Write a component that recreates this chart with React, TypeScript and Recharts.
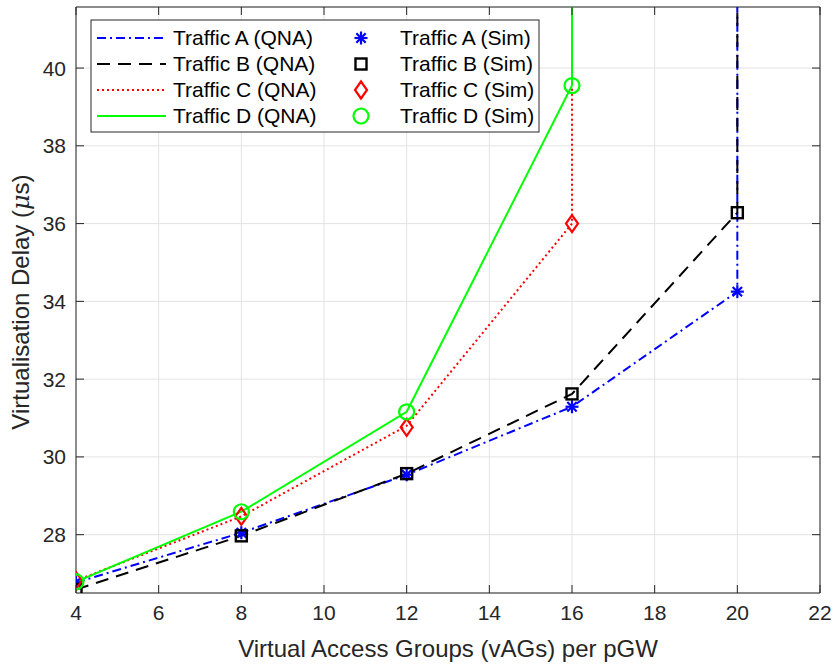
import {
  ComposedChart,
  Line,
  Scatter,
  XAxis,
  YAxis,
  CartesianGrid,
  ReferenceLine,
} from "recharts";

// vAGs per pGW
const vags = [4, 8, 12, 16, 20];
// a value far above the axis marks the point where the queue goes unstable
const UNSTABLE = 60;

const simA = [26.77, 28.05, 29.54, 31.29, 34.25];
const simB = [26.59, 27.97, 29.57, 31.62, 36.28];
const simC = [26.82, 28.47, 30.76, 36.0];
const simD = [26.79, 28.59, 31.16, 39.55];

const qnaA = [26.77, 28.05, 29.54, 31.29, 34.25, UNSTABLE];
const qnaB = [26.59, 27.97, 29.57, 31.62, 36.28, UNSTABLE];
const qnaC = [26.82, 28.47, 30.8, 36.0, UNSTABLE];
const qnaD = [26.79, 28.59, 31.16, 39.55, UNSTABLE];

const xTicks = [4, 6, 8, 10, 12, 14, 16, 18, 20, 22];
const yTicks = [28, 30, 32, 34, 36, 38, 40];
const xDomain: [number, number] = [4, 22];
const yDomain: [number, number] = [26.5, 41.57];

const BLUE = "#0000ff";
const BLACK = "#000000";
const RED = "#ff0000";
const GREEN = "#00ff00";
const AXIS = "#262626";
const FONT = "'Liberation Sans', Arial, sans-serif";

// plot box in pixels (MATLAB-style box with inward ticks on all four sides)
const BOX = { top: 7, bottom: 593, left: 76, right: 820 };
const TICK = 8;

// the last (unstable) value sits on the last finite x, giving the vertical rise
const qnaPoints = (ys: number[]) =>
  ys.map((y, i) => ({ x: i < ys.length - 1 ? vags[i] : vags[ys.length - 2], y }));

type ShapeProps = { cx?: number; cy?: number };

const Asterisk = ({ cx = 0, cy = 0 }: ShapeProps) => {
  const r = 6.5;
  const d = r * 0.72;
  return (
    <g stroke={BLUE} strokeWidth={2.2}>
      <line x1={cx - r} y1={cy} x2={cx + r} y2={cy} />
      <line x1={cx} y1={cy - r} x2={cx} y2={cy + r} />
      <line x1={cx - d} y1={cy - d} x2={cx + d} y2={cy + d} />
      <line x1={cx - d} y1={cy + d} x2={cx + d} y2={cy - d} />
    </g>
  );
};

const Square = ({ cx = 0, cy = 0 }: ShapeProps) => (
  <rect x={cx - 5.5} y={cy - 5.5} width={11} height={11} fill="none" stroke={BLACK} strokeWidth={2.4} />
);

const Diamond = ({ cx = 0, cy = 0 }: ShapeProps) => (
  <path
    d={`M${cx},${cy - 8.5} L${cx + 6},${cy} L${cx},${cy + 8.5} L${cx - 6},${cy} Z`}
    fill="none"
    stroke={RED}
    strokeWidth={2.2}
  />
);

const Circle = ({ cx = 0, cy = 0 }: ShapeProps) => (
  <circle cx={cx} cy={cy} r={7.5} fill="none" stroke={GREEN} strokeWidth={2.2} />
);

const series = [
  { name: "Traffic A", qna: qnaA, sim: simA, color: BLUE, dash: "9 4 2 4", Shape: Asterisk },
  { name: "Traffic B", qna: qnaB, sim: simB, color: BLACK, dash: "13 8", Shape: Square },
  { name: "Traffic C", qna: qnaC, sim: simC, color: RED, dash: "2 3", Shape: Diamond },
  { name: "Traffic D", qna: qnaD, sim: simD, color: GREEN, dash: undefined, Shape: Circle },
];

type TickProps = { x?: number; y?: number; payload?: { value: number } };

const XTick = ({ x = 0, y = 0, payload }: TickProps) => (
  <g>
    <line x1={x} x2={x} y1={BOX.bottom} y2={BOX.bottom - TICK} stroke={AXIS} />
    <line x1={x} x2={x} y1={BOX.top} y2={BOX.top + TICK} stroke={AXIS} />
    <text x={x} y={y} dy="0.75em" textAnchor="middle" fontFamily={FONT} fontSize={21} fill={AXIS}>
      {payload?.value}
    </text>
  </g>
);

const YTick = ({ x = 0, y = 0, payload }: TickProps) => (
  <g>
    <line x1={BOX.left} x2={BOX.left + TICK} y1={y} y2={y} stroke={AXIS} />
    <line x1={BOX.right} x2={BOX.right - TICK} y1={y} y2={y} stroke={AXIS} />
    <text x={x} y={y} dy="0.36em" textAnchor="end" fontFamily={FONT} fontSize={21} fill={AXIS}>
      {payload?.value}
    </text>
  </g>
);

function ChartLegend() {
  return (
    <svg width={450} height={114} style={{ position: "absolute", left: 90, top: 19 }}>
      <rect x={1} y={1} width={448} height={112} fill="#fff" stroke={AXIS} strokeWidth={1} />
      {series.map((s, i) => {
        const y = 19 + i * 26;
        const { Shape } = s;
        return (
          <g key={s.name}>
            <line x1={7} x2={76} y1={y} y2={y} stroke={s.color} strokeWidth={2} strokeDasharray={s.dash} />
            <text x={83} y={y + 7} fontFamily={FONT} fontSize={21} fill="#000">
              {s.name} (QNA)
            </text>
            <Shape cx={271} cy={y} />
            <text x={310} y={y + 7} fontFamily={FONT} fontSize={21} fill="#000">
              {s.name} (Sim)
            </text>
          </g>
        );
      })}
    </svg>
  );
}

export default function App() {
  return (
    <div style={{ position: "absolute", left: 0, top: 0, width: 834, height: 669, background: "#fff" }}>
      <ComposedChart
        width={834}
        height={669}
        margin={{ top: BOX.top, right: 834 - BOX.right, left: 0, bottom: 0 }}
      >
        <CartesianGrid stroke="#e3e3e3" strokeWidth={1} />
        <XAxis
          dataKey="x"
          type="number"
          domain={xDomain}
          ticks={xTicks}
          height={669 - BOX.bottom}
          tickSize={0}
          tickLine={false}
          tickMargin={11}
          axisLine={{ stroke: AXIS }}
          tick={<XTick />}
          allowDataOverflow
        />
        <YAxis
          type="number"
          domain={yDomain}
          ticks={yTicks}
          width={BOX.left}
          tickSize={0}
          tickLine={false}
          tickMargin={10}
          axisLine={{ stroke: AXIS }}
          tick={<YTick />}
          allowDataOverflow
        />
        <ReferenceLine x={xDomain[1]} stroke={AXIS} strokeWidth={1} />
        <ReferenceLine y={yDomain[1]} stroke={AXIS} strokeWidth={1} />
        {series.map((s) => (
          <Line
            key={s.name + "-qna"}
            data={qnaPoints(s.qna)}
            dataKey="y"
            type="linear"
            stroke={s.color}
            strokeWidth={2}
            strokeDasharray={s.dash}
            dot={false}
            activeDot={false}
            isAnimationActive={false}
          />
        ))}
        {series.map((s) => (
          <Scatter
            key={s.name + "-sim"}
            data={s.sim.map((y, i) => ({ x: vags[i], y }))}
            dataKey="y"
            shape={(p: ShapeProps) => <s.Shape cx={p.cx} cy={p.cy} />}
            isAnimationActive={false}
          />
        ))}
      </ComposedChart>
      <svg width={834} height={669} style={{ position: "absolute", left: 0, top: 0, pointerEvents: "none" }}>
        <text x={448} y={657} textAnchor="middle" fontFamily={FONT} fontSize={24} fill={AXIS}>
          Virtual Access Groups (vAGs) per pGW
        </text>
        <text
          x={29}
          y={302}
          textAnchor="middle"
          transform="rotate(-90 29 302)"
          fontFamily={FONT}
          fontSize={24}
          fill={AXIS}
        >
          Virtualisation Delay (<tspan fontStyle="italic" fontFamily="'DejaVu Serif', serif">{"\u03bc"}</tspan>s)
        </text>
      </svg>
      <ChartLegend />
    </div>
  );
}
